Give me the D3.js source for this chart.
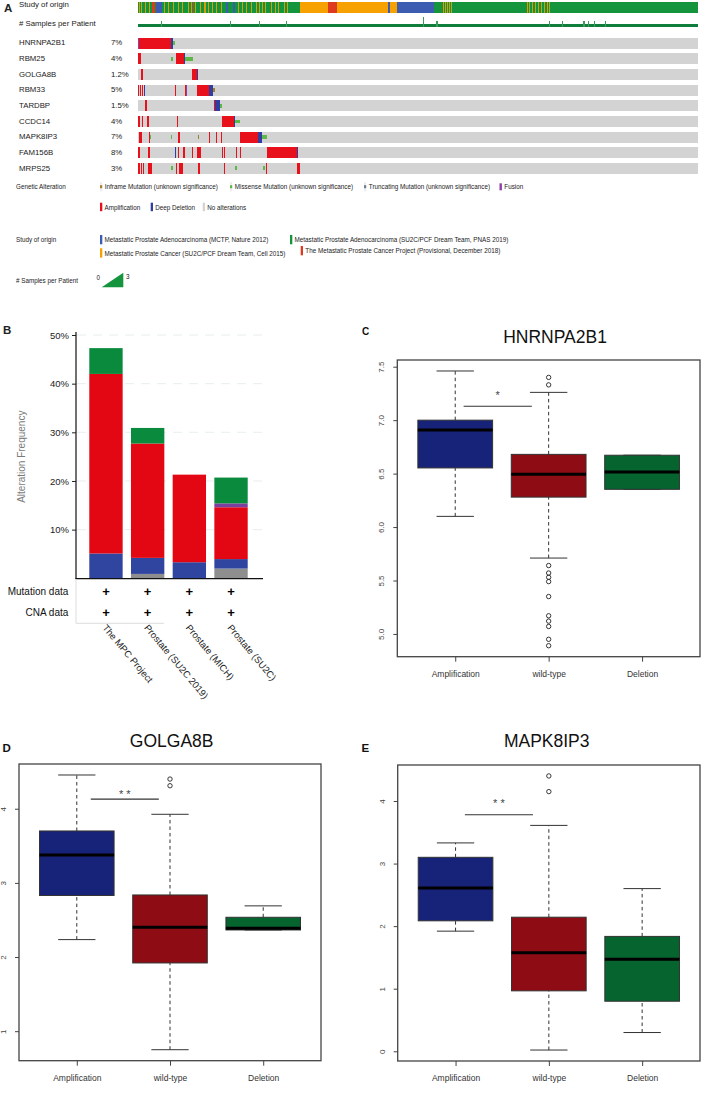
<!DOCTYPE html>
<html><head><meta charset="utf-8">
<script src="https://cdn.jsdelivr.net/npm/d3@7"></script>
<style>
body{margin:0;background:#fff}
svg{display:block}
text{font-family:"Liberation Sans",Arial,Helvetica,sans-serif}
</style>
</head><body>
<svg id="c" width="709" height="1110"></svg>
<script>
// ---------------- DATA ----------------
// Panel A: oncoprint
const genes = ["HNRNPA2B1","RBM25","GOLGA8B","RBM33","TARDBP","CCDC14","MAPK8IP3","FAM156B","MRPS25"];
const genePct = ["7%","4%","1.2%","5%","1.5%","4%","7%","8%","3%"];
const nSamples = 560;
const studyKeys = ["MCTP","SU2C2019","SU2C2015","MPC"];
const studyLabels = ["Metastatic Prostate Adenocarcinoma (MCTP, Nature 2012)",
  "Metastatic Prostate Adenocarcinoma (SU2C/PCF Dream Team, PNAS 2019)",
  "Metastatic Prostate Cancer (SU2C/PCF Dream Team, Cell 2015)",
  "The Metastatic Prostate Cancer Project (Provisional, December 2018)"];
// [start sample, end sample, study]
const studyBlocks = [[0,162,"SU2C2019"],[162,190,"SU2C2015"],[190,199,"MPC"],[199,250,"SU2C2015"],
  [250,252,"MCTP"],[252,259,"SU2C2015"],[259,296,"MCTP"],[296,560,"SU2C2019"],
  [14,17,"MPC"],[18,24,"MCTP"],[88,90,"MCTP"],[95,97,"MCTP"]];
// single-sample stripes [sample, study]
const studyStripes = [[1,"SU2C2015"],[3,"SU2C2015"],[7,"SU2C2015"],[11,"SU2C2015"],[26,"SU2C2015"],[30,"SU2C2015"],
  [35,"SU2C2015"],[40,"SU2C2015"],[44,"SU2C2015"],[50,"SU2C2015"],[53,"SU2C2015"],[55,"MPC"],[57,"SU2C2015"],
  [62,"SU2C2015"],[66,"SU2C2015"],[67,"SU2C2015"],[70,"SU2C2015"],[74,"SU2C2015"],[78,"SU2C2015"],[83,"SU2C2015"],
  [100,"SU2C2015"],[104,"SU2C2015"],[108,"SU2C2015"],[113,"SU2C2015"],[118,"SU2C2015"],[121,"SU2C2015"],
  [124,"SU2C2015"],[127,"SU2C2015"],[133,"SU2C2015"],[137,"SU2C2015"],[140,"SU2C2015"],[146,"SU2C2015"],[149,"SU2C2015"],
  [305,"SU2C2015"],[307,"SU2C2015"],[309,"SU2C2015"],[311,"SU2C2015"],[313,"SU2C2015"],
  [389,"SU2C2015"],[391,"SU2C2015"],[394,"SU2C2015"],[397,"SU2C2015"],[400,"SU2C2015"],[403,"SU2C2015"],
  [406,"SU2C2015"],[409,"SU2C2015"],[411,"SU2C2015"]];
// samples per patient: samples with more than one sample
const multiSampleIdx = [23,92,121,148,285,298,299,411,424,445,446,450,456,467];
const multiSampleVal = [2,2,2,2,3,2,2,2,2,2,2,2,2,2];
// alterations per gene: [start sample, end sample, type]
const altHNRNPA2B1 = [[0,1,"fus"],[1,33,"amp"],[33,35,"del"],[35,37,"mis"]];
const altRBM25 = [[0,3,"amp"],[33,35,"mis"],[38,46,"amp"],[46,47,"del"],[47,55,"mis"]];
const altGOLGA8B = [[3,5,"amp"],[54,59,"amp"],[59,60,"del"]];
const altRBM33 = [[0,1,"amp"],[2,3,"amp"],[4,5,"amp"],[6,7,"del"],[37,38,"amp"],[47,48,"amp"],[48,49,"fus"],[59,71,"amp"],[71,75,"del"],[75,77,"inf"]];
const altTARDBP = [[7,9,"amp"],[76,77,"amp"],[77,82,"del"],[82,84,"mis"]];
const altCCDC14 = [[0,2,"amp"],[4,5,"amp"],[9,11,"amp"],[39,40,"amp"],[84,96,"amp"],[96,97,"del"],[97,102,"mis"]];
const altMAPK8IP3 = [[1,4,"amp"],[11,12,"amp"],[12,13,"mis"],[33,34,"mis"],[40,42,"amp"],[60,61,"inf"],[71,72,"amp"],[78,79,"amp"],[83,84,"amp"],[102,120,"amp"],[120,124,"del"],[124,129,"mis"]];
const altFAM156B = [[0,2,"amp"],[10,12,"amp"],[37,38,"del"],[40,41,"amp"],[45,47,"amp"],[54,55,"amp"],[59,63,"amp"],[84,85,"amp"],[86,87,"amp"],[98,99,"amp"],[102,103,"amp"],[129,159,"amp"],[159,160,"del"]];
const altMRPS25 = [[0,2,"amp"],[3,4,"amp"],[5,6,"amp"],[10,14,"amp"],[33,35,"mis"],[38,39,"amp"],[41,45,"amp"],[60,62,"amp"],[86,87,"amp"],[97,99,"mis"],[125,127,"mis"],[128,129,"amp"],[159,162,"amp"]];
const mutLegend = [["inf","Inframe Mutation (unknown significance)"],["mis","Missense Mutation (unknown significance)"],["trunc","Truncating Mutation (unknown significance)"],["fus","Fusion"]];
const cnaLegend = [["amp","Amplification"],["del","Deep Deletion"],["none","No alterations"]];

// Panel B: alteration frequency (%)
const bCats = ["The MPC Project","Prostate (SU2C 2019)","Prostate (MICH)","Prostate (SU2C)"];
const bMulti    = [0, 0.9, 0, 2.0];
const bDeepDel  = [5.1, 3.3, 3.3, 1.95];
const bAmp      = [36.9, 23.5, 18.0, 10.65];
const bFusion   = [0, 0, 0, 0.8];
const bMutation = [5.3, 3.2, 0, 5.3];
const bTicks = [10, 20, 30, 40, 50];
const bRows = ["Mutation data","CNA data"];

// Panels C-E: boxplots [lower whisker, Q1, median, Q3, upper whisker]
const boxGroups = ["Amplification","wild-type","Deletion"];
const cStats = [[6.10,6.553,6.907,7.0,7.46],[5.71,6.28,6.495,6.68,7.26],[6.353,6.353,6.516,6.672,6.672]];
const cOutliers = [[],[7.40,7.33,5.64,5.57,5.53,5.49,5.35,5.17,5.12,5.07,4.95,4.89],[]];
const cTicks = [5.0,5.5,6.0,6.5,7.0,7.5];
const cSig = [1.09, 1.82, 7.13, 7.20, "*"];
const dStats = [[2.235,2.83,3.376,3.70,4.455],[0.75,1.92,2.40,2.837,3.925],[2.365,2.365,2.388,2.536,2.69]];
const dOutliers = [[],[4.40,4.31],[]];
const dTicks = [1,2,3,4];
const dSig = [1.15, 1.88, 4.13, 4.14, "* *"];
const eStats = [[1.92,2.085,2.61,3.10,3.33],[0.02,0.966,1.575,2.143,3.61],[0.30,0.80,1.47,1.836,2.60]];
const eOutliers = [[],[4.40,4.15],[]];
const eTicks = [0,1,2,3,4];
const eSig = [1.10, 1.83, 3.78, 3.91, "* *"];

// ---------------- DRAW ----------------
const svg = d3.select("#c");
const studyColor = {MCTP:"#3b5cb0", SU2C2019:"#14953d", SU2C2015:"#f6a100", MPC:"#dd3a1f"};
const altColor = {amp:"#e8101b", del:"#2f3ea0", fus:"#8e3fa5", mis:"#5cb946", inf:"#a37f2c", trunc:"#6f7f8f", none:"#d3d3d3"};
const fullTypes = new Set(["amp","del","fus"]);
const T = "#222";

function txt(x,y,s,fs,o={}){
  const t = svg.append("text").attr("x",x).attr("y",y).attr("font-size",fs).attr("fill",o.fill||T).text(s);
  if(o.anchor) t.attr("text-anchor",o.anchor);
  if(o.bold) t.attr("font-weight","bold");
  if(o.tr) t.attr("transform",o.tr);
  return t;
}

// ---- Panel A ----
txt(4,12,"A",11.5,{bold:true});
const xs = d3.scaleLinear().domain([0,nSamples]).range([138,698]);
txt(19,7,"Study of origin",7.8);
txt(19,26,"# Samples per Patient",7.8);
const gA = svg.append("g").attr("shape-rendering","crispEdges");
gA.selectAll("rect.sb").data(studyBlocks).join("rect")
  .attr("x",d=>xs(d[0])).attr("width",d=>xs(d[1])-xs(d[0])).attr("y",1.7).attr("height",11)
  .attr("fill",d=>studyColor[d[2]]);
gA.selectAll("rect.ss").data(studyStripes).join("rect")
  .attr("x",d=>xs(d[0])).attr("width",d=>xs(d[0]+1)-xs(d[0])).attr("y",1.7).attr("height",11)
  .attr("fill",d=>studyColor[d[1]]).attr("opacity",0.85);
// samples per patient
const spp = d3.range(nSamples).map(i=>{const k=multiSampleIdx.indexOf(i);return k<0?1:multiSampleVal[k];});
const sy = d3.scaleLinear().domain([0,3]).range([27.4,17.2]);
gA.append("g").selectAll("rect").data(spp).join("rect")
  .attr("x",(d,i)=>xs(i)).attr("width",(d,i)=>xs(i+1)-xs(i)).attr("y",d=>sy(d)).attr("height",d=>sy(0)-sy(d))
  .attr("fill",d=>d>1?"#3f9a5c":"#0f7d3b");

const yRow = d3.scaleBand().domain(genes).range([37.7,173.8]).paddingInner(0.297).paddingOuter(0);
const bw = yRow.bandwidth();
const altByGene = [altHNRNPA2B1,altRBM25,altGOLGA8B,altRBM33,altTARDBP,altCCDC14,altMAPK8IP3,altFAM156B,altMRPS25];
genes.forEach((g,i)=>{
  const y0 = yRow(g);
  txt(19,y0+7.7,g,7.8);
  txt(111,y0+7.7,genePct[i],7.8);
  gA.append("rect").attr("x",xs(0)).attr("width",xs(nSamples)-xs(0)).attr("y",y0).attr("height",bw).attr("fill",altColor.none);
  gA.append("g").selectAll("rect").data(altByGene[i]).join("rect")
    .attr("x",d=>xs(d[0])).attr("width",d=>Math.max(1,xs(d[1])-xs(d[0])))
    .attr("y",d=>fullTypes.has(d[2])?y0:y0+bw/3).attr("height",d=>fullTypes.has(d[2])?bw:bw/3)
    .attr("fill",d=>altColor[d[2]]);
});

// legend
const LF = 6.3;
txt(16,189,"Genetic Alteration",LF);
const mutX = [100,230,364,499.5];
mutLegend.forEach((d,i)=>{
  if(d[0]==="fus"){
    svg.append("rect").attr("x",mutX[i]).attr("y",183.3).attr("width",2.4).attr("height",7).attr("fill",altColor.fus);
  } else {
    svg.append("rect").attr("x",mutX[i]).attr("y",182.2).attr("width",2.2).attr("height",9).attr("fill","#ececec");
    svg.append("rect").attr("x",mutX[i]).attr("y",185.2).attr("width",2.2).attr("height",3).attr("fill",altColor[d[0]]);
  }
  txt(mutX[i]+4.8,189,d[1],LF);
});
const cnaX = [100,150.7,202.7];
cnaLegend.forEach((d,i)=>{
  svg.append("rect").attr("x",cnaX[i]).attr("y",202.7).attr("width",2.3).attr("height",8.5).attr("fill",altColor[d[0]]);
  txt(cnaX[i]+4.5,209.6,d[1],LF);
});
txt(16,242.3,"Study of origin",LF);
const stPos = [[100,235],[290,235],[100,248.3],[300.7,246]];
studyKeys.forEach((k,i)=>{
  svg.append("rect").attr("x",stPos[i][0]).attr("y",stPos[i][1]).attr("width",2.3).attr("height",9.3).attr("fill",studyColor[k]);
  txt(stPos[i][0]+4.6,stPos[i][1]+7.2,studyLabels[i],LF);
});
txt(16,282.5,"# Samples per Patient",LF);
txt(96.5,279.5,"0",LF);
txt(126,279,"3",LF);
svg.append("path").attr("d","M101.7,287.3L123.3,287.3L123.3,272.7Z").attr("fill","#14953d");

// ---- Panel B ----
txt(3,334,"B",11.5,{bold:true});
const bx = d3.scaleBand().domain(bCats).range([89.3,247.7]).paddingInner(0.2).paddingOuter(0);
const by = d3.scaleLinear().domain([0,50]).range([578.3,335]);
// grid
svg.append("g").selectAll("line").data(bTicks).join("line")
  .attr("x1",77).attr("x2",263).attr("y1",d=>by(d)).attr("y2",d=>by(d))
  .attr("stroke","#e2eaea").attr("stroke-dasharray","9,7").attr("stroke-width",0.8);
const bTable = bCats.map((c,i)=>({cat:c,multi:bMulti[i],del:bDeepDel[i],amp:bAmp[i],fus:bFusion[i],mut:bMutation[i]}));
const bKeys = ["multi","del","amp","fus","mut"];
const bCol = {multi:"#8e8e8e",del:"#2f45a0",amp:"#e30613",fus:"#7b3fa0",mut:"#0a8a3c"};
const stack = d3.stack().keys(bKeys)(bTable);
svg.append("g").selectAll("g").data(stack).join("g").attr("fill",d=>bCol[d.key])
  .selectAll("rect").data(d=>d).join("rect")
  .attr("x",d=>bx(d.data.cat)).attr("width",bx.bandwidth())
  .attr("y",d=>by(d[1])).attr("height",d=>by(d[0])-by(d[1]));
const yAxB = svg.append("g").attr("transform","translate(76,0)")
  .call(d3.axisLeft(by).tickValues(bTicks).tickFormat(d=>d+"%").tickSize(4).tickSizeOuter(0));
yAxB.select(".domain").remove();
yAxB.selectAll("text").attr("font-size",9.5).attr("fill","#222").attr("font-family",null).attr("x",-7);
yAxB.selectAll("line").attr("stroke","#222");
svg.append("line").attr("x1",76).attr("x2",76).attr("y1",332).attr("y2",579).attr("stroke","#111").attr("stroke-width",1.2);
svg.append("line").attr("x1",75.5).attr("x2",263).attr("y1",578.6).attr("y2",578.6).attr("stroke","#111").attr("stroke-width",1.2);
txt(25,456.7,"Alteration Frequency",10,{fill:"#7a7a7a",anchor:"middle",tr:"rotate(-90,25,456.7)"});
// data table
svg.append("line").attr("x1",76).attr("x2",76).attr("y1",579).attr("y2",623.3).attr("stroke","#ddd");
svg.append("line").attr("x1",76).attr("x2",164).attr("y1",623.3).attr("y2",623.3).attr("stroke","#ddd");
const rowY = [591.7,612.7];
bRows.forEach((r,j)=>{
  txt(68.3,rowY[j]+3.6,r,10,{anchor:"end",fill:"#111"});
  bCats.forEach(c=>{
    txt(bx(c)+bx.bandwidth()/2,rowY[j]+4.5,"+",13,{anchor:"middle",bold:true,fill:"#000"});
  });
});
bCats.forEach(c=>{
  const x0 = bx(c)+bx.bandwidth()/2-4, y0 = 628;
  txt(x0,y0,c,9.5,{fill:"#222",tr:`rotate(50,${x0},${y0})`});
});

// ---- Boxplots ----
const boxFill = ["#172379","#8e0c13","#06652f"];
function boxPanel(p){
  const g = svg.append("g");
  const x = d3.scaleLinear().domain([0.38,3.62]).range([p.left,p.right]);
  const all = p.stats.flat().concat(p.outliers.flat());
  const [mn,mx] = d3.extent(all); const pad=(mx-mn)*0.04;
  const y = d3.scaleLinear().domain([mn-pad,mx+pad]).range([p.bottom,p.top]);
  p.stats.forEach((s,i)=>{
    const c = i+1, cx = x(c);
    [[s[3],s[4]],[s[0],s[1]]].forEach(w=>{
      if(w[0]!==w[1]) g.append("line").attr("x1",cx).attr("x2",cx).attr("y1",y(w[0])).attr("y2",y(w[1]))
        .attr("stroke","#333").attr("stroke-dasharray","3.5,3").attr("stroke-width",1);
    });
    [s[0],s[4]].forEach(v=>{
      g.append("line").attr("x1",x(c-0.2)).attr("x2",x(c+0.2)).attr("y1",y(v)).attr("y2",y(v)).attr("stroke","#333").attr("stroke-width",1);
    });
    g.append("rect").attr("x",x(c-0.4)).attr("width",x(c+0.4)-x(c-0.4)).attr("y",y(s[3])).attr("height",y(s[1])-y(s[3]))
      .attr("fill",boxFill[i]).attr("stroke","#333").attr("stroke-width",1);
    g.append("line").attr("x1",x(c-0.4)).attr("x2",x(c+0.4)).attr("y1",y(s[2])).attr("y2",y(s[2])).attr("stroke","#000").attr("stroke-width",3);
    g.selectAll(null).data(p.outliers[i]).join("circle").attr("cx",cx).attr("cy",d=>y(d)).attr("r",2.2)
      .attr("fill","none").attr("stroke","#222").attr("stroke-width",0.9);
  });
  // significance
  g.append("line").attr("x1",x(p.sig[0])).attr("x2",x(p.sig[1])).attr("y1",y(p.sig[2])).attr("y2",y(p.sig[2])).attr("stroke","#333").attr("stroke-width",1.1);
  g.append("text").attr("x",x((p.sig[0]+p.sig[1])/2)).attr("y",y(p.sig[3])).attr("text-anchor","middle")
    .attr("font-size",11).attr("fill","#444").text(p.sig[4]);
  // frame
  g.append("rect").attr("x",p.left).attr("y",p.top).attr("width",p.right-p.left).attr("height",p.bottom-p.top)
    .attr("fill","none").attr("stroke","#444").attr("stroke-width",1.3);
  const ya = g.append("g").attr("transform",`translate(${p.left},0)`)
    .call(d3.axisLeft(y).tickValues(p.ticks).tickFormat(p.fmt).tickSize(4).tickSizeOuter(0));
  ya.select(".domain").remove();
  ya.selectAll("line").attr("stroke","#444");
  ya.selectAll("text").attr("x",null).attr("dy",null).attr("text-anchor","middle").attr("font-family",null)
    .attr("font-size",8).attr("fill","#444").attr("transform","translate(-13,0) rotate(-90)");
  const xa = g.append("g").attr("transform",`translate(0,${p.bottom})`)
    .call(d3.axisBottom(x).tickValues([1,2,3]).tickFormat((d,i)=>boxGroups[i]).tickSize(5).tickSizeOuter(0));
  xa.select(".domain").remove();
  xa.selectAll("line").attr("stroke","#444");
  xa.selectAll("text").attr("y",20.3).attr("dy",null).attr("font-family",null).attr("font-size",8.5).attr("fill","#333");
  txt(p.titleX,p.titleY,p.title,17.5,{anchor:"middle",fill:"#111"});
  txt(p.lx,p.ly,p.letter,p.lfs,{bold:true,fill:"#111"});
}
boxPanel({left:397.3,top:360,right:700,bottom:656.7,stats:cStats,outliers:cOutliers,ticks:cTicks,fmt:d3.format(".1f"),
  sig:cSig,title:"HNRNPA2B1",titleX:555,titleY:343.3,letter:"C",lx:362,ly:335,lfs:10});
boxPanel({left:19,top:764,right:321,bottom:1060.7,stats:dStats,outliers:dOutliers,ticks:dTicks,fmt:d3.format("d"),
  sig:dSig,title:"GOLGA8B",titleX:171.7,titleY:747.3,letter:"D",lx:2.5,ly:752.3,lfs:11.5});
boxPanel({left:397.7,top:765,right:700,bottom:1061,stats:eStats,outliers:eOutliers,ticks:eTicks,fmt:d3.format("d"),
  sig:eSig,title:"MAPK8IP3",titleX:546.7,titleY:747.3,letter:"E",lx:361.5,ly:752.3,lfs:11.5});
</script>
</body></html>
